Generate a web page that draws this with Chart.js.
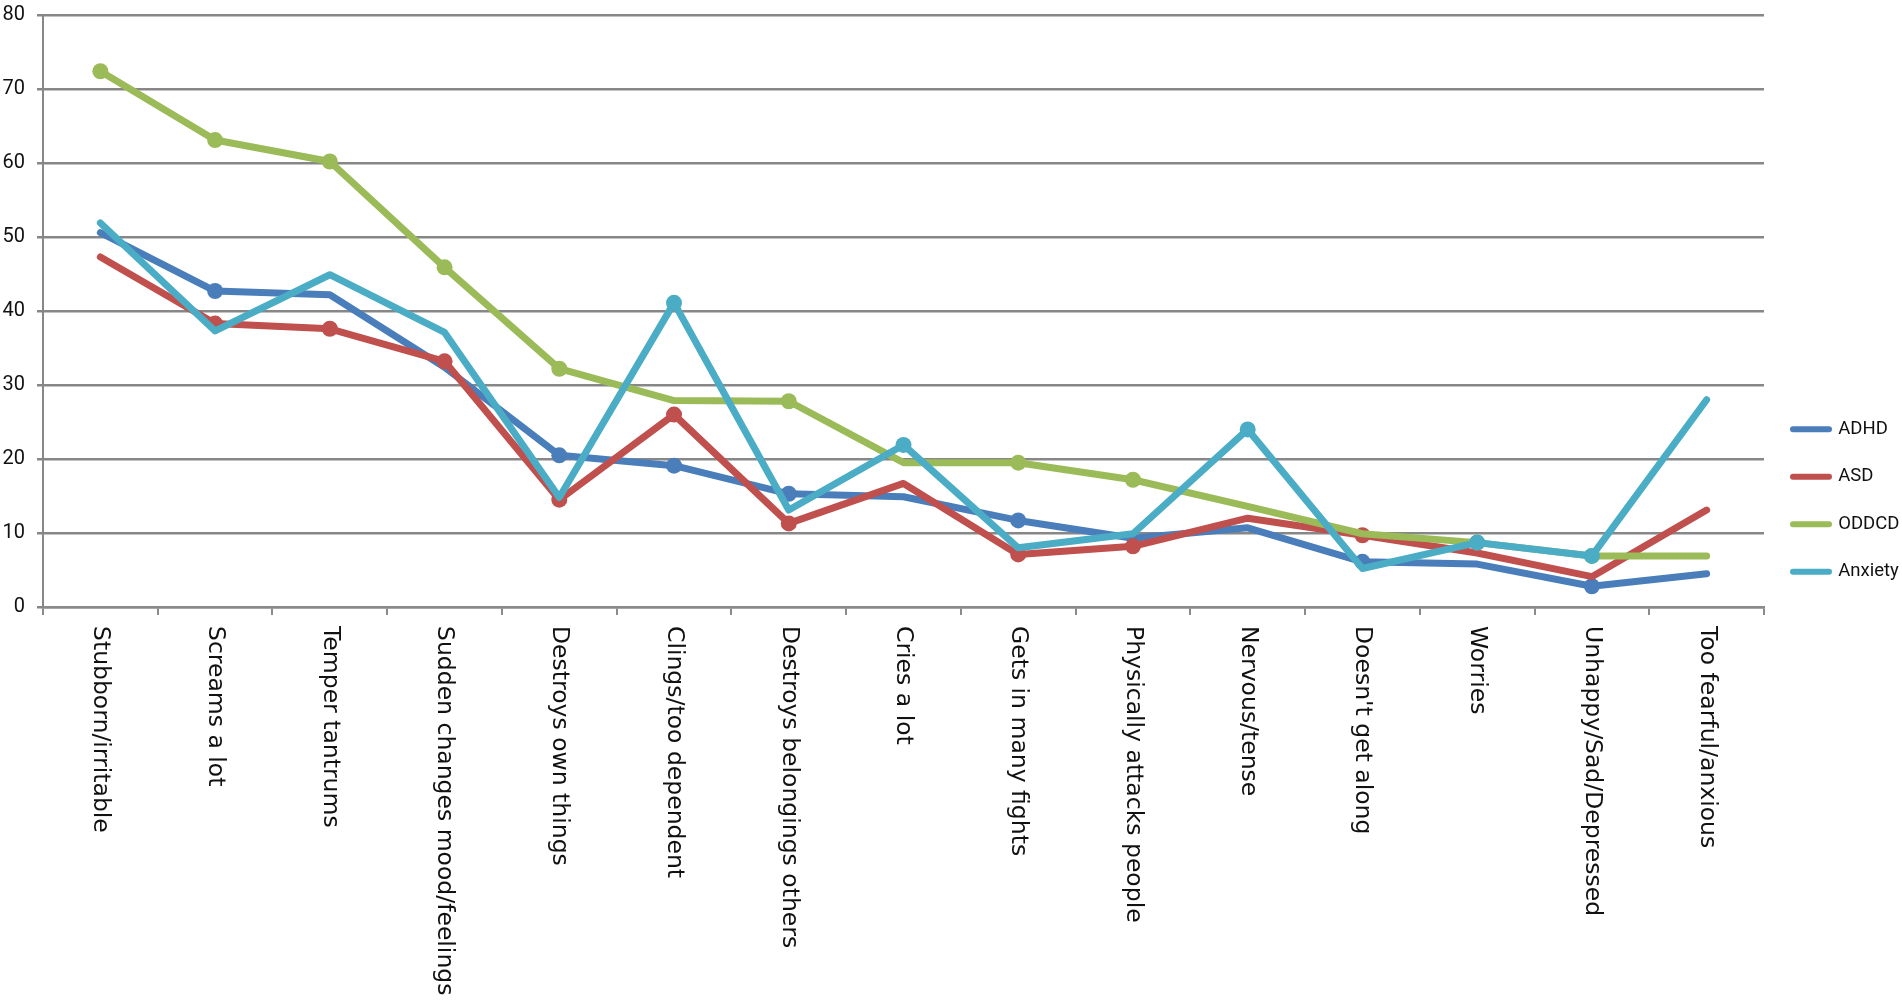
<!DOCTYPE html>
<html>
<head>
<meta charset="utf-8">
<script src="https://cdn.jsdelivr.net/npm/chart.js@4.4.0/dist/chart.umd.min.js"></script>
<style>
  html, body { margin: 0; padding: 0; background: #fff; }
  #wrap { width: 1902px; height: 1001px; }
</style>
</head>
<body>
<div id="wrap"><canvas id="chart"></canvas></div>
<script>
const categories = [
  'Stubborn/irritable', 'Screams a lot', 'Temper tantrums', 'Sudden changes mood/feelings',
  'Destroys own things', 'Clings/too dependent', 'Destroys belongings others', 'Cries a lot',
  'Gets in many fights', 'Physically attacks people', 'Nervous/tense', "Doesn't get along",
  'Worries', 'Unhappy/Sad/Depressed', 'Too fearful/anxious'
];

const adhd    = [50.6, 42.7, 42.2, 32.4, 20.5, 19.1, 15.3, 14.9, 11.7, 9.3, 10.7, 6.1, 5.8, 2.8, 4.5];
const asd     = [47.3, 38.3, 37.6, 33.2, 14.5, 26.0, 11.3, 16.7, 7.1, 8.2, 12.0, 9.7, 7.3, 4.1, 13.1];
const oddcd   = [72.4, 63.1, 60.2, 45.9, 32.2, 27.9, 27.8, 19.5, 19.5, 17.2, 13.6, 9.9, 8.7, 6.9, 6.9];
const anxiety = [51.9, 37.3, 44.9, 37.1, 14.8, 41.1, 13.1, 21.9, 8.0, 9.9, 24.0, 5.2, 8.7, 6.9, 28.0];

const yTicks = [0, 10, 20, 30, 40, 50, 60, 70, 80];

// points that carry a round marker in the original
const adhdMarks    = [1, 4, 5, 6, 8, 11, 13];
const asdMarks     = [1, 2, 3, 4, 5, 6, 8, 9, 11];
const oddcdMarks   = [0, 1, 2, 3, 4, 6, 8, 9, 12, 13];
const anxietyMarks = [5, 7, 10, 12, 13];

const narrow = 'Roboto, "Liberation Sans", sans-serif';

function series(label, data, color, marks, order) {
  return {
    label: label,
    data: data,
    borderColor: color,
    backgroundColor: color,
    borderWidth: 7,
    borderCapStyle: 'round',
    borderJoinStyle: 'round',
    tension: 0,
    order: order,
    pointRadius: (ctx) => marks.includes(ctx.dataIndex) ? 8 : 0,
    pointBorderWidth: 0,
    pointBackgroundColor: color
  };
}

// x labels read top to bottom, so they are drawn here instead of by the axis
const xLabels = {
  id: 'xLabels',
  afterDraw(chart) {
    const xs = chart.scales.x;
    const ctx = chart.ctx;
    ctx.save();
    ctx.font = '23.5px "DejaVu Sans", sans-serif';
    ctx.fillStyle = '#111';
    ctx.textAlign = 'left';
    ctx.textBaseline = 'middle';
    categories.forEach((c, i) => {
      ctx.save();
      ctx.translate(xs.getPixelForValue(i), xs.top + 19);
      ctx.rotate(Math.PI / 2);
      ctx.fillText(c, 0, 0);
      ctx.restore();
    });
    ctx.restore();
  }
};

new Chart(document.getElementById('chart'), {
  type: 'line',
  data: {
    labels: categories,
    datasets: [
      series('ADHD', adhd, '#4a7ebb', adhdMarks, 3),
      series('ASD', asd, '#c0504d', asdMarks, 2),
      series('ODDCD', oddcd, '#9bbb59', oddcdMarks, 1),
      series('Anxiety', anxiety, '#4bacc6', anxietyMarks, 0)
    ]
  },
  options: {
    responsive: true,
    maintainAspectRatio: false,
    animation: false,
    devicePixelRatio: 1,
    layout: { padding: 0 },
    plugins: {
      tooltip: { enabled: false },
      legend: {
        position: 'right',
        align: 'center',
        maxWidth: 138,
        labels: {
          usePointStyle: true,
          pointStyleWidth: 36,
          padding: 29,
          color: '#111',
          font: { family: narrow, size: 18.5 },
          generateLabels(chart) {
            return chart.data.datasets.map((ds, i) => ({
              text: ds.label,
              datasetIndex: i,
              fillStyle: ds.borderColor,
              strokeStyle: ds.borderColor,
              lineWidth: 6,
              lineCap: 'round',
              pointStyle: 'line',
              fontColor: '#111',
              hidden: false
            }));
          }
        }
      }
    },
    scales: {
      x: {
        offset: true,
        grid: {
          offset: true,
          drawOnChartArea: false,
          drawTicks: true,
          tickLength: 8,
          color: '#8a8a8a',
          lineWidth: 2
        },
        border: { color: '#8a8a8a', width: 2.5 },
        ticks: { display: false },
        afterFit(scale) { scale.height = 394; }
      },
      y: {
        min: 0,
        max: 80,
        afterBuildTicks(scale) { scale.ticks = yTicks.map(v => ({ value: v })); },
        afterFit(scale) { scale.width = 43; scale.paddingTop = 15; },
        grid: { color: '#878787', lineWidth: 2.5, tickLength: 6 },
        border: { color: '#878787', width: 2 },
        ticks: {
          padding: 12,
          color: '#111',
          font: { family: narrow, size: 20 }
        }
      }
    }
  },
  plugins: [xLabels]
});
</script>
</body>
</html>
